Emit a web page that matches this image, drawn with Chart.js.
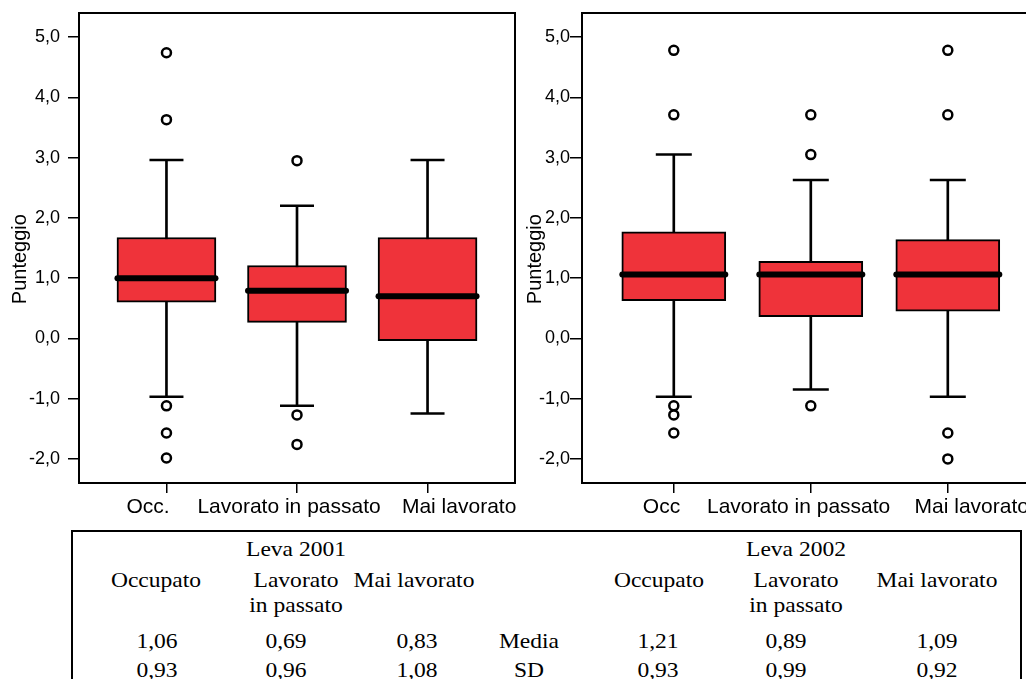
<!DOCTYPE html>
<html>
<head>
<meta charset="utf-8">
<script src="https://cdn.jsdelivr.net/npm/chart.js@4.4.1/dist/chart.umd.min.js"></script>
<style>
  html, body { margin: 0; padding: 0; background: #fff; width: 1026px; height: 679px; overflow: hidden; }
  #page { position: relative; width: 1026px; height: 679px; overflow: hidden; }
  canvas { position: absolute; top: 0; }
  #c2001 { left: 0; }
  #c2002 { left: 520px; }
  #tableBox { position: absolute; left: 71px; top: 530px; width: 947px; height: 200px; border: 2px solid #000; }
  .cell { position: absolute; white-space: nowrap; font-family: "Liberation Serif", "Times New Roman", serif;
          font-size: 21px; line-height: 21px; color: #000; transform: translateX(-50%) scaleX(1.12); }
</style>
</head>
<body>
<div id="page">
<canvas id="c2001" width="520" height="530"></canvas>
<canvas id="c2002" width="600" height="530"></canvas>
<div id="tableBox"></div>
</div>
<script>
// ---- data ----
const categories2001 = ['Occ.', 'Lavorato in passato', 'Mai lavorato'];
const categories2002 = ['Occ', 'Lavorato in passato', 'Mai lavorato'];
const yTicks = [-2, -1, 0, 1, 2, 3, 4, 5];

// Leva 2001 box plot statistics
const q1_2001 = [0.60, 0.265, -0.04];
const median_2001 = [1.00, 0.79, 0.70];
const q3_2001 = [1.675, 1.21, 1.675];
const whiskerLow_2001 = [-0.97, -1.12, -1.245];
const whiskerHigh_2001 = [2.96, 2.20, 2.96];
const outliers_2001 = [[4.74, 3.63, -1.12, -1.57, -1.985], [2.95, -1.27, -1.76], []];

// Leva 2002 box plot statistics
const q1_2002 = [0.625, 0.36, 0.45];
const median_2002 = [1.06, 1.06, 1.06];
const q3_2002 = [1.77, 1.28, 1.64];
const whiskerLow_2002 = [-0.97, -0.85, -0.97];
const whiskerHigh_2002 = [3.05, 2.63, 2.63];
const outliers_2002 = [[4.78, 3.71, -1.12, -1.27, -1.57], [3.71, 3.05, -1.12], [4.78, 3.71, -1.57, -2.0]];

// summary table
const tableGroups = ['Leva 2001', 'Leva 2002'];
const tableHeads = [['Occupato'], ['Lavorato', 'in passato'], ['Mai lavorato']];
const tableRowNames = ['Media', 'SD'];
const mean2001 = [1.06, 0.69, 0.83];
const sd2001 = [0.93, 0.96, 1.08];
const mean2002 = [1.21, 0.89, 1.09];
const sd2002 = [0.93, 0.99, 0.92];

// ---- drawing ----
const RED = '#EF333A';
const FONT = '"Liberation Sans", Arial, sans-serif';
const MEDIAN_INDEX = 3;
const comma = (v, d) => v.toFixed(d).replace('.', ',');

const framePlugin = {
  id: 'frame',
  beforeDatasetDraw(chart, args) {
    // median bars get rounded ends, every other stroke stays square
    chart.ctx.lineCap = args.index === MEDIAN_INDEX ? 'round' : 'butt';
  },
  afterDraw(chart) {
    const { ctx, chartArea: a } = chart;
    ctx.save();
    ctx.lineCap = 'butt';
    ctx.strokeStyle = '#000';
    ctx.lineWidth = 2;
    ctx.strokeRect(a.left, a.top, a.right - a.left, a.bottom - a.top);
    ctx.restore();
  }
};

// keep the plot area exactly where the layout puts it
function noScalePadding(sc) {
  sc.paddingLeft = 0; sc.paddingRight = 0; sc.paddingTop = 0; sc.paddingBottom = 0;
}

function buildChart(id, cats, s, look) {
  const xs = cats.map((c, i) => i + 1);
  const datasets = [
    { type: 'bar', order: 5, grouped: false, barThickness: 2, backgroundColor: '#000', borderWidth: 0,
      data: xs.map((x, i) => ({ x, y: [s.low[i], s.high[i]] })) },
    { type: 'bar', order: 4, grouped: false, barThickness: look.box, backgroundColor: RED,
      borderColor: '#000', borderWidth: 2, borderSkipped: false,
      data: xs.map((x, i) => ({ x, y: [s.q1[i], s.q3[i]] })) },
    { type: 'scatter', order: 3, pointStyle: 'line', pointRadius: look.cap / 2, pointBorderWidth: 2.5,
      pointBorderColor: '#000',
      data: xs.flatMap((x, i) => [{ x, y: s.low[i] }, { x, y: s.high[i] }]) },
    { type: 'scatter', order: 2, pointStyle: 'line', pointRadius: look.box / 2 - 0.5, pointBorderWidth: 6,
      pointBorderColor: '#000',
      data: xs.map((x, i) => ({ x, y: s.median[i] })) },
    { type: 'scatter', order: 1, pointStyle: 'circle', pointRadius: 4.5, pointBorderWidth: 2.5,
      pointBorderColor: '#000', pointBackgroundColor: '#fff',
      data: xs.flatMap((x, i) => s.outliers[i].map(y => ({ x, y }))) }
  ];

  return new Chart(document.getElementById(id), {
    type: 'scatter',
    data: { datasets },
    plugins: [framePlugin],
    options: {
      responsive: false, animation: false, devicePixelRatio: 1, events: [],
      layout: { autoPadding: false, padding: { top: 13, right: look.padRight, left: 0, bottom: 0 } },
      plugins: { legend: { display: false }, tooltip: { enabled: false } },
      scales: {
        x: {
          type: 'linear', position: 'bottom', weight: 0, min: 0.33, max: 3.67, offset: false,
          afterBuildTicks: sc => { sc.ticks = xs.map(v => ({ value: v })); },
          ticks: { display: false },
          grid: { drawOnChartArea: false, drawTicks: true, tickLength: 10, color: '#000', lineWidth: 1.5, offset: false },
          border: { display: true, color: '#000', width: 2 },
          afterFit: sc => { sc.height = 10; noScalePadding(sc); }
        },
        xl: {
          type: 'linear', position: 'bottom', weight: 1, min: 0.33, max: 3.67, offset: false,
          afterBuildTicks: sc => { sc.ticks = look.labelSpots.map(v => ({ value: v })); },
          ticks: { autoSkip: false, maxRotation: 0, minRotation: 0, padding: look.xPad, color: '#000',
                   font: { family: FONT, size: 21 }, callback: (v, i) => cats[i] },
          grid: { display: false, drawTicks: false },
          border: { display: false },
          afterFit: sc => { sc.height = 37; noScalePadding(sc); }
        },
        y: {
          type: 'linear', min: -2.4, max: 5.4,
          afterBuildTicks: sc => { sc.ticks = yTicks.map(v => ({ value: v })); },
          ticks: { padding: look.yPad, color: '#000', font: { family: FONT, size: 18 },
                   callback: v => comma(v, 1) },
          grid: { drawOnChartArea: false, drawTicks: true, tickLength: look.yTick, color: '#000', lineWidth: 1.5 },
          border: { display: true, color: '#000', width: 2 },
          title: { display: true, text: 'Punteggio    ', color: '#000', font: { family: FONT, size: 20 },
                   padding: { top: look.titlePad, bottom: 0 } },
          afterFit: sc => { sc.width = look.yWidth; noScalePadding(sc); }
        }
      }
    }
  });
}

buildChart('c2001', categories2001,
  { q1: q1_2001, median: median_2001, q3: q3_2001, low: whiskerLow_2001, high: whiskerHigh_2001, outliers: outliers_2001 },
  { box: 99, cap: 34, padRight: 5, yWidth: 79, yTick: 11, yPad: 8, titlePad: 8, xPad: 2,
    labelSpots: [0.859, 1.939, 3.242] });

// the 2002 panel runs past the right edge of the page
buildChart('c2002', categories2002,
  { q1: q1_2002, median: median_2002, q3: q3_2002, low: whiskerLow_2002, high: whiskerHigh_2002, outliers: outliers_2002 },
  { box: 104, cap: 36, padRight: 80.4, yWidth: 62, yTick: 12, yPad: 0, titlePad: 3, xPad: 2,
    labelSpots: [0.91, 1.911, 3.175] });

// ---- summary table ----
const page = document.getElementById('page');
function putText(text, cx, baseline) {
  const el = document.createElement('div');
  el.className = 'cell';
  el.textContent = text;
  el.style.left = cx + 'px';
  el.style.top = (baseline - 17) + 'px';
  page.appendChild(el);
}

const colCenters = [[156, 296, 414], [659, 796, 937]];
const valueCenters = [[157, 286, 417], [658, 786, 937]];
const rowNameCenter = 529;
const baselines = { group: 556, head1: 587, head2: 612, mean: 648, sd: 677 };

tableGroups.forEach((g, gi) => putText(g, colCenters[gi][1], baselines.group));
[0, 1].forEach(gi => {
  tableHeads.forEach((lines, hi) => {
    putText(lines[0], colCenters[gi][hi], baselines.head1);
    if (lines[1]) putText(lines[1], colCenters[gi][hi], baselines.head2);
  });
});
putText(tableRowNames[0], rowNameCenter, baselines.mean);
putText(tableRowNames[1], rowNameCenter, baselines.sd);
[[mean2001, sd2001], [mean2002, sd2002]].forEach(([m, sd], gi) => {
  m.forEach((v, i) => putText(comma(v, 2), valueCenters[gi][i], baselines.mean));
  sd.forEach((v, i) => putText(comma(v, 2), valueCenters[gi][i], baselines.sd));
});
</script>
</body>
</html>
